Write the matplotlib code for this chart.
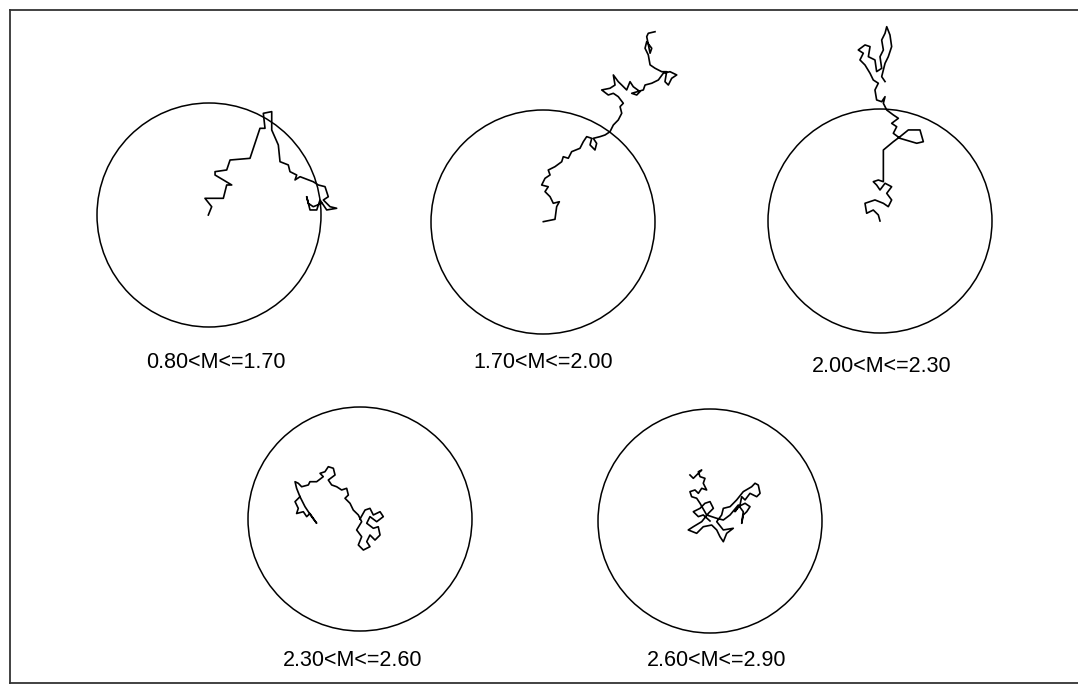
import matplotlib.pyplot as plt
from matplotlib.patches import Circle
from matplotlib.lines import Line2D

# Magnitude classes, one panel each
labels = ["0.80<M<=1.70", "1.70<M<=2.00", "2.00<M<=2.30",
          "2.30<M<=2.60", "2.60<M<=2.90"]

# Migration paths, in percent of the circle radius (start at the centre)
path1_x = [-0.6, 2.4, -3.6, 12.8, 15.8, 20.3, 12.8, 5.4, 5.4, 15.8, 18.8, 36.6,
           45.5, 50.0, 48.5, 56.0, 56.0, 61.9, 63.4, 70.8, 72.3, 78.3, 76.8,
           81.3, 93.1, 97.6, 103.6, 106.5, 102.1, 108.1, 114.0, 105.1, 99.1,
           96.2, 90.2, 87.2, 88.7, 93.1, 100.6]
path1_y = [0.0, 7.4, 14.9, 14.9, 26.8, 26.8, 31.3, 35.7, 38.7, 40.2, 49.1, 50.6,
           77.4, 77.4, 90.8, 92.3, 75.9, 62.5, 47.6, 44.7, 38.7, 35.7, 31.3,
           34.2, 29.7, 26.8, 25.3, 16.3, 13.4, 7.4, 6.0, 4.5, 13.4,
           4.5, 4.5, 16.3, 10.4, 7.4, 10.4]

path2_x = [0.3, 10.7, 12.2, 14.6, 9.2, 6.3, 1.8, 4.7, -1.2, 1.8, 6.3, 4.7, 10.7,
           16.7, 18.1, 22.6, 25.6, 33.0, 36.0, 39.0, 43.5, 42.0, 46.4, 47.9,
           44.9, 50.9, 55.4, 59.8, 62.8, 67.2, 70.3, 68.8, 71.7, 67.2, 62.8,
           58.3, 52.4, 59.8, 64.3, 62.8, 67.2, 70.3, 74.7, 77.7, 80.6, 86.6,
           83.7, 79.2, 89.6, 91.1, 97.1, 103.0, 107.4, 113.4, 119.4, 114.9,
           111.9, 108.9, 110.4, 106.0, 100.0, 95.6, 94.0, 91.1, 92.6, 97.1,
           95.6, 92.6, 94.0, 100.0]
path2_y = [0.3, 2.4, 13.7, 18.1, 16.7, 22.6, 27.1, 31.5, 33.0, 39.0, 42.0, 46.4,
           49.4, 53.8, 58.3, 56.9, 62.8, 65.8, 71.7, 76.2, 74.7, 68.8, 64.3,
           70.2, 74.7, 76.2, 77.7, 80.6, 86.6, 91.1, 97.1, 103.0, 106.0, 111.9,
           114.9, 113.4, 117.9, 119.4, 122.3, 131.3, 125.3, 122.3, 117.9, 125.3,
           120.8, 116.4, 113.4, 114.9, 117.9, 122.3, 123.9, 126.8, 132.8, 134.2,
           131.3, 128.3, 122.3, 125.3, 134.2, 134.2, 137.3, 140.3, 149.2, 155.1,
           161.0, 155.1, 150.7, 165.5, 168.5, 169.9]

path3_x = [0.0, -1.5, -6.0, -11.9, -13.4, -4.5, 3.0, 7.4, 10.4, 6.0, 10.4, 4.5,
           0.0, -3.0, -6.0, -1.5, 3.0, 3.0, 11.9, 17.9, 25.3, 35.7, 38.7, 32.8,
           17.9, 11.9, 14.9, 10.4, 16.4, 11.9, 6.0, 3.0, 4.5, 1.5, -3.0, -4.5,
           -1.5, -6.0, -8.9, -13.4, -17.9, -14.9, -19.4, -13.4, -8.9, -10.4,
           -4.5, -3.0, 1.5, 0.0, 3.0, 1.5, 4.5, 6.0, 8.9, 10.4, 7.4, 4.5, 1.5,
           4.5]
path3_y = [0.0, 5.4, 9.8, 6.9, 15.8, 18.8, 15.8, 12.8, 18.8, 24.7, 30.6, 33.7,
           27.7, 32.1, 35.1, 36.6, 35.1, 63.4, 70.8, 75.3, 81.3, 81.3, 70.8,
           69.4, 73.8, 78.3, 84.2, 87.2, 91.7, 94.7, 99.1, 105.1, 111.0, 106.5,
           108.1, 117.0, 123.0, 125.9, 131.9, 139.3, 143.8, 149.8, 152.7, 157.2,
           155.7, 146.7, 143.8, 133.4, 136.3, 146.7, 152.7, 161.6, 167.6, 173.5,
           166.1, 155.7, 146.7, 140.8, 128.9, 124.5]

path4_x = [0.0, 4.5, 8.9, 11.9, 17.9, 20.8, 14.9, 8.9, 6.0, 11.9, 16.3, 17.9,
           13.4, 8.9, 6.0, 8.9, 3.0, -1.5, 1.5, -3.0, 1.5, -1.5, -6.0, -8.9,
           -13.4, -10.4, -11.9, -16.4, -20.8, -25.3, -28.3, -22.3, -23.8, -28.3,
           -31.3, -35.7, -32.8, -38.7, -44.7, -46.1, -52.1, -55.1, -58.0, -56.6,
           -53.6, -58.0, -55.1, -56.6, -50.6, -47.6, -44.7, -38.7, -43.2, -49.1,
           -53.6]
path4_y = [0.0, 8.0, 9.5, 3.6, 6.5, 2.1, -2.4, 2.1, -3.8, -8.3, -6.9, -14.3,
           -18.8, -14.3, -20.2, -24.7, -27.7, -23.2, -15.8, -9.8, -2.4, 3.6,
           8.0, 14.0, 18.5, 21.4, 27.4, 25.9, 28.8, 30.4, 34.8, 39.3, 45.3, 46.7,
           42.2, 40.8, 37.8, 33.3, 33.3, 30.4, 28.8, 31.9, 33.3, 27.4, 19.9,
           15.5, 9.5, 4.9, 6.5, 2.1, 4.9, -3.8, 2.1, 11.0, 19.9]

path5_x = [0.0, -6.0, -10.4, -14.9, -8.9, -4.5, 0.0, 3.0, -1.5, -7.4, -14.9,
           -19.4, -11.9, -6.0, 1.5, 6.0, 8.9, 11.9, 14.9, 20.8, 11.9, 6.0, 10.4,
           11.9, 17.9, 23.8, 29.7, 37.2, 40.2, 43.1, 44.7, 41.7, 35.7, 31.3,
           28.3, 26.8, 22.3, 25.3, 31.3, 35.7, 32.8, 29.7, 28.3, 29.7, 25.3,
           17.9, 11.9, 6.0, -3.0, -8.9, -11.9, -16.4, -17.9, -13.4, -10.4, -7.4,
           -3.0, -6.0, -4.5, -8.9, -10.4, -7.4, -11.9, -14.9, -17.9]
path5_y = [0.0, 5.4, 3.9, 8.3, 11.3, 15.8, 17.3, 11.3, 6.8, -0.6, -5.1, -8.0,
           -11.0, -5.1, -3.6, -8.0, -14.0, -18.5, -11.0, -6.5, -8.0, -0.6, 5.4,
           11.3, 12.8, 18.8, 26.2, 30.6, 33.7, 32.1, 24.7, 21.7, 24.7, 18.8,
           21.7, 14.3, 8.3, 12.8, 15.8, 12.8, 8.3, 5.4, -2.1, 8.3, 14.3, 5.4,
           0.9, 2.4, 5.4, 15.8, 20.3, 21.7, 26.2, 27.7, 24.7, 29.2, 27.7, 33.7,
           38.1, 39.6, 44.0, 45.5, 41.1, 38.1, 41.1]

paths = [(path1_x, path1_y), (path2_x, path2_y), (path3_x, path3_y),
         (path4_x, path4_y), (path5_x, path5_y)]

W, H = 1078, 688
fig = plt.figure(figsize=(W / 100, H / 100), dpi=100)

# panel centres in pixels, circle radius in pixels, label offsets below centre
centres = [(209, 215), (543, 222), (880, 221), (360, 519), (710, 521)]
label_pos = [(7, 147), (0, 140), (2, 146), (-7, 142), (7, 140)]
R_PX = 112
BOX = 420

for (cx, cy), (px, py), lab, (xs, ys) in zip(centres, label_pos, labels, paths):
    ax = fig.add_axes([(cx - BOX / 2) / W, 1 - (cy + BOX / 2) / H, BOX / W, BOX / H])
    lim = BOX / 2 * 100 / R_PX
    ax.set_xlim(-lim, lim)
    ax.set_ylim(-lim, lim)
    ax.set_aspect("equal")
    ax.axis("off")
    ax.patch.set_alpha(0)
    ax.add_patch(Circle((0, 0), 100, fill=False, ec="black", lw=1.1, clip_on=False))
    ax.plot(xs, ys, color="black", lw=1.2, clip_on=False)
    fig.text((cx + px) / W, 1 - (cy + py) / H, lab, ha="center", va="center",
             fontsize=15.5, family="Liberation Sans")

# outer frame
for (x0, y0, x1, y1) in [(10, 10, W, 10), (10, 10, 10, 683), (10, 683, W, 683)]:
    fig.add_artist(Line2D([x0 / W, x1 / W], [1 - y0 / H, 1 - y1 / H],
                          color="#333333", lw=1.3))

fig.savefig("out.png", dpi=100)
